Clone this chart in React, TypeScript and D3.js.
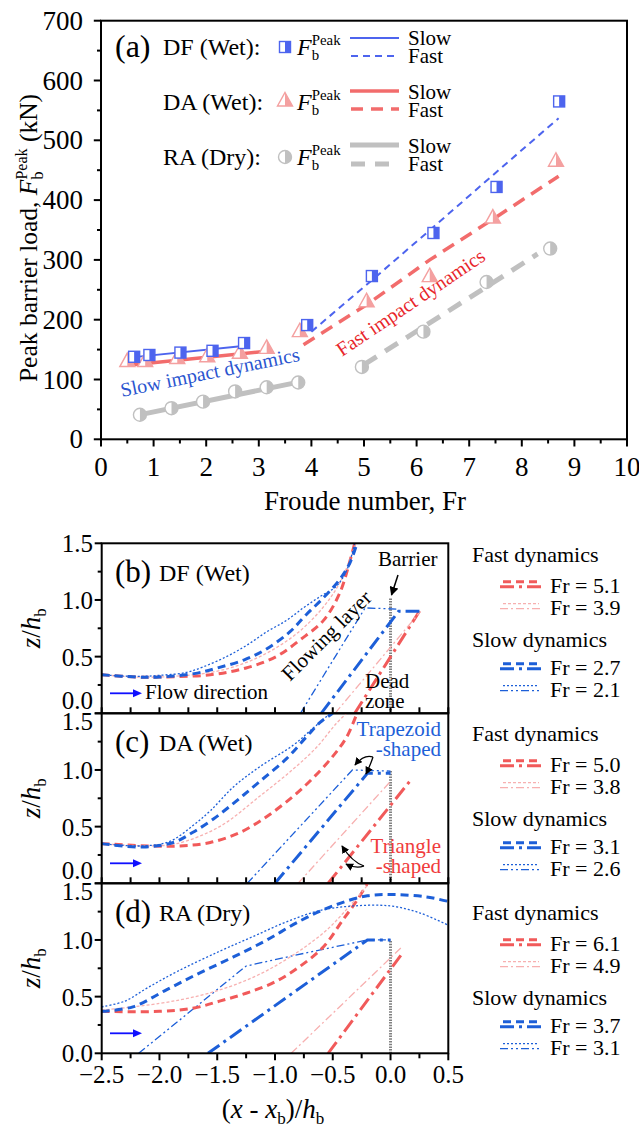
import React from "react";
import * as d3 from "d3";

const FONT = "'Liberation Serif', 'Times New Roman', serif";

// ---------------- Panel (a) data ----------------
const frTicks = [0, 1, 2, 3, 4, 5, 6, 7, 8, 9, 10];
const frMinor = [0.5, 1.5, 2.5, 3.5, 4.5, 5.5, 6.5, 7.5, 8.5, 9.5];
const loadTicks = [0, 100, 200, 300, 400, 500, 600, 700];
const loadMinor = [50, 150, 250, 350, 450, 550, 650];

const dfSlowFr = [0.63, 0.92, 1.51, 2.12, 2.72];
const dfSlowLoad = [138, 141, 145, 148, 161];
const dfFastFr = [3.92, 5.15, 6.32, 7.52, 8.71];
const dfFastLoad = [191, 273, 345, 422, 565];
const daSlowFr = [0.5, 0.84, 1.45, 2.02, 2.64, 3.15];
const daSlowLoad = [130, 130, 135, 138, 144, 152];
const daFastFr = [3.78, 5.05, 6.25, 7.45, 8.65];
const daFastLoad = [180, 230, 272, 370, 465];
const raSlowFr = [0.74, 1.34, 1.94, 2.55, 3.15, 3.75];
const raSlowLoad = [41, 52, 63, 80, 87, 95];
const raFastFr = [4.96, 6.13, 7.33, 8.54];
const raFastLoad = [121, 180, 263, 319];

const dfSlowFitFr = [0.58, 2.7];
const dfSlowFitLoad = [137, 156];
const dfFastFitFr = [4.0, 5.15, 6.32, 7.52, 8.7];
const dfFastFitLoad = [180, 266, 355, 447, 537];
const daSlowFitFr = [0.52, 3.24];
const daSlowFitLoad = [124, 148];
const daFastFitFr = [3.85, 5.05, 6.25, 7.45, 8.7];
const daFastFitLoad = [158, 225, 300, 368, 440];
const raSlowFitFr = [0.68, 3.78];
const raSlowFitLoad = [40, 96];
const raFastFitFr = [5.0, 6.13, 7.33, 8.3];
const raFastFitLoad = [125, 188, 255, 310];

// ---------------- Panels (b)-(d) data ----------------
const xProfTicks = [-2.5, -2.25, -2, -1.75, -1.5, -1.25, -1, -0.75, -0.5, -0.25, 0, 0.25, 0.5];
const zProfTicks = [0, 0.25, 0.5, 0.75, 1, 1.25, 1.5];

const bRedSurface = [[-2.5, 0.34], [-2.2, 0.32], [-2.0, 0.32], [-1.56, 0.34], [-1.25, 0.4], [-0.99, 0.5], [-0.78, 0.65], [-0.58, 0.82], [-0.44, 1.06], [-0.35, 1.35], [-0.31, 1.5]];
const bPinkSurface = [[-2.5, 0.34], [-2.2, 0.32], [-2.0, 0.32], [-1.56, 0.36], [-1.27, 0.44], [-1.02, 0.56], [-0.78, 0.73], [-0.58, 0.94], [-0.44, 1.15], [-0.32, 1.44], [-0.3, 1.5]];
const bBlueThickSurface = [[-2.5, 0.34], [-2.2, 0.32], [-2.0, 0.32], [-1.7, 0.35], [-1.5, 0.4], [-1.27, 0.47], [-1.07, 0.57], [-0.87, 0.72], [-0.73, 0.87], [-0.58, 1.02], [-0.44, 1.18], [-0.35, 1.33], [-0.29, 1.5]];
const bBlueThinSurface = [[-2.5, 0.34], [-2.2, 0.325], [-2.0, 0.335], [-1.77, 0.36], [-1.62, 0.41], [-1.42, 0.5], [-1.245, 0.6], [-1.07, 0.72], [-0.9, 0.82], [-0.755, 0.93], [-0.61, 1.03], [-0.47, 1.12], [-0.38, 1.26], [-0.31, 1.5]];
const bRedDead = [[-0.31, 0], [0.25, 0.9]];
const bPinkDead = [[-0.48, 0], [0.26, 0.9]];
const bBlueThickDead = [[-0.6, 0], [0.07, 0.9], [0.25, 0.9]];
const bBlueThinDead = [[-0.78, 0], [-0.22, 0.93], [0.05, 0.92]];

const cRedSurface = [[-2.5, 0.35], [-2.1, 0.33], [-1.82, 0.33], [-1.56, 0.36], [-1.3, 0.45], [-1.07, 0.59], [-0.84, 0.77], [-0.67, 0.93], [-0.5, 1.12], [-0.38, 1.29], [-0.29, 1.5]];
const cPinkSurface = [[-2.5, 0.35], [-2.1, 0.33], [-1.85, 0.35], [-1.48, 0.5], [-1.13, 0.77], [-0.84, 1.01], [-0.64, 1.2], [-0.47, 1.41], [-0.38, 1.5]];
const cBlueThickSurface = [[-2.5, 0.35], [-2.14, 0.32], [-1.88, 0.36], [-1.71, 0.45], [-1.53, 0.57], [-1.33, 0.73], [-1.13, 0.9], [-0.9, 1.1], [-0.73, 1.29], [-0.61, 1.42], [-0.5, 1.5]];
const cBlueThinSurface = [[-2.5, 0.35], [-2.14, 0.33], [-1.91, 0.37], [-1.71, 0.51], [-1.56, 0.64], [-1.36, 0.85], [-1.13, 1.03], [-0.84, 1.22], [-0.67, 1.37], [-0.52, 1.5]];
const cRedDead = [[-0.54, 0], [0.19, 0.93]];
const cPinkDead = [[-0.8, 0], [0.0, 0.9]];
const cBlueThickDead = [[-1.0, 0], [-0.2, 0.97], [0.0, 0.97]];
const cBlueThinDead = [[-1.24, 0], [-0.33, 1.0], [0.0, 0.99]];

const dRedSurface = [[-2.5, 0.37], [-2.0, 0.37], [-1.7, 0.4], [-1.48, 0.46], [-1.25, 0.53], [-1.0, 0.63], [-0.78, 0.77], [-0.58, 0.94], [-0.41, 1.18], [-0.29, 1.35], [-0.2, 1.5]];
const dPinkSurface = [[-2.5, 0.38], [-2.0, 0.44], [-1.65, 0.51], [-1.36, 0.6], [-1.07, 0.73], [-0.78, 0.91], [-0.55, 1.09], [-0.38, 1.27], [-0.21, 1.47], [-0.19, 1.5]];
const dBlueThickSurface = [[-2.5, 0.37], [-2.23, 0.41], [-1.94, 0.56], [-1.65, 0.71], [-1.36, 0.85], [-1.07, 1.0], [-0.78, 1.17], [-0.5, 1.3], [-0.2, 1.39], [0.05, 1.4], [0.31, 1.38], [0.5, 1.34]];
const dBlueThinSurface = [[-2.5, 0.41], [-2.3, 0.46], [-2.1, 0.58], [-1.85, 0.72], [-1.48, 0.9], [-1.19, 1.03], [-0.9, 1.16], [-0.61, 1.26], [-0.32, 1.3], [0, 1.3], [0.25, 1.24], [0.5, 1.13]];
const dRedDead = [[-0.54, 0], [0.1, 0.88]];
const dPinkDead = [[-0.86, 0], [0.1, 0.94]];
const dBlueThickDead = [[-1.58, 0], [-0.2, 1.0], [0.0, 1.0]];
const dBlueThinDead = [[-2.18, 0], [-1.25, 0.77], [-0.85, 0.86], [-0.2, 1.0], [0.0, 1.0]];

const bLegendFr = ["5.1", "3.9", "2.7", "2.1"];
const cLegendFr = ["5.0", "3.8", "3.1", "2.6"];
const dLegendFr = ["6.1", "4.9", "3.7", "3.1"];

// ---------------- styles ----------------
const BLUE_A = "#4d64ee";
const RED_A = "#f26c6c";
const PINK_A = "#f4a0a0";
const GRAY_A = "#c0c0c0";
const RED_P = "#f15a5a";
const PINK_P = "#f7b0b0";
const BLUE_P = "#1d5fd8";

const profStyles = [
  { stroke: RED_P, w: 3, surf: "8,5", dead: "14,5,3,5" },
  { stroke: PINK_P, w: 1.3, surf: "3,2", dead: "8,3,2,3" },
  { stroke: BLUE_P, w: 3, surf: "8,5", dead: "14,5,3,5" },
  { stroke: BLUE_P, w: 1.3, surf: "2,2", dead: "8,3,2,3,2,3" },
];

const xA = d3.scaleLinear().domain([0, 10]).range([101, 627]);
const yA = d3.scaleLinear().domain([0, 700]).range([439.3, 20.7]);
const xP = d3.scaleLinear().domain([-2.5, 0.5]).range([101.7, 448.3]);
const PANEL_H = 170;

function lineA(xs: number[], ys: number[]) {
  return d3
    .line<number>()
    .x((_, i) => xA(xs[i]))
    .y((_, i) => yA(ys[i]))(xs) as string;
}

function Square({ cx, cy }: any) {
  return (
    <g transform={`translate(${cx},${cy})`}>
      <rect x={-5.5} y={-5.5} width={11} height={11} fill="white" stroke={BLUE_A} strokeWidth={1.4} />
      <rect x={0} y={-5.5} width={5.5} height={11} fill={BLUE_A} />
    </g>
  );
}
function Tri({ cx, cy }: any) {
  return (
    <g transform={`translate(${cx},${cy})`}>
      <path d="M0,-8.5 L7.5,5 L-7.5,5 Z" fill="white" stroke={PINK_A} strokeWidth={1.4} />
      <path d="M0,-8.5 L7.5,5 L0,5 Z" fill={PINK_A} />
    </g>
  );
}
function Circ({ cx, cy }: any) {
  return (
    <g transform={`translate(${cx},${cy})`}>
      <circle r={6.5} fill="white" stroke={GRAY_A} strokeWidth={1.4} />
      <path d="M0,-6.5 A6.5,6.5 0 0 1 0,6.5 Z" fill={GRAY_A} />
    </g>
  );
}

function FbPeak({ x, y, size }: any) {
  const s = size * 0.62;
  return (
    <text x={x} y={y} fontSize={size} fontFamily={FONT}>
      <tspan fontStyle="italic">F</tspan>
      <tspan fontSize={s} dy={size * 0.22}>b</tspan>
      <tspan fontSize={s} dx={-s * 0.5} dy={-size * 0.62}>Peak</tspan>
    </text>
  );
}

function PanelA() {
  const legendRows = [
    { label: "DF (Wet):", y: 55, marker: "sq", color: BLUE_A, w: 2, dash: "7,5", slowY: 38, fastY: 56, sT: 45, fT: 63 },
    { label: "DA (Wet):", y: 110, marker: "tri", color: RED_A, w: 3.5, dash: "12,8", slowY: 91, fastY: 109, sT: 99, fT: 117 },
    { label: "RA (Dry):", y: 165, marker: "circ", color: GRAY_A, w: 5, dash: "14,10", slowY: 145, fastY: 164, sT: 153, fT: 171 },
  ];
  return (
    <g>
      {/* fit lines */}
      <path d={lineA(dfSlowFitFr, dfSlowFitLoad)} fill="none" stroke={BLUE_A} strokeWidth={2} />
      <path d={lineA(dfFastFitFr, dfFastFitLoad)} fill="none" stroke={BLUE_A} strokeWidth={2} strokeDasharray="7,5" />
      <path d={lineA(daSlowFitFr, daSlowFitLoad)} fill="none" stroke={RED_A} strokeWidth={3.5} />
      <path d={lineA(daFastFitFr, daFastFitLoad)} fill="none" stroke={RED_A} strokeWidth={3.5} strokeDasharray="13,8" />
      <path d={lineA(raSlowFitFr, raSlowFitLoad)} fill="none" stroke={GRAY_A} strokeWidth={5} />
      <path d={lineA(raFastFitFr, raFastFitLoad)} fill="none" stroke={GRAY_A} strokeWidth={5} strokeDasharray="15,10" />
      {/* markers */}
      {raSlowFr.map((f, i) => <Circ key={"rs" + i} cx={xA(f)} cy={yA(raSlowLoad[i])} />)}
      {raFastFr.map((f, i) => <Circ key={"rf" + i} cx={xA(f)} cy={yA(raFastLoad[i])} />)}
      {daSlowFr.map((f, i) => <Tri key={"ds" + i} cx={xA(f)} cy={yA(daSlowLoad[i])} />)}
      {daFastFr.map((f, i) => <Tri key={"dfa" + i} cx={xA(f)} cy={yA(daFastLoad[i])} />)}
      {dfSlowFr.map((f, i) => <Square key={"fs" + i} cx={xA(f)} cy={yA(dfSlowLoad[i])} />)}
      {dfFastFr.map((f, i) => <Square key={"ff" + i} cx={xA(f)} cy={yA(dfFastLoad[i])} />)}

      {/* annotations */}
      <text transform="translate(122,397) rotate(-11.5)" fontSize={20} fill="#2a55cf" fontFamily={FONT}>Slow impact dynamics</text>
      <text transform="translate(342,357) rotate(-34)" fontSize={20} fill="#e8262b" fontFamily={FONT}>Fast impact dynamics</text>

      {/* legend */}
      <text x={115} y={57} fontSize={32} fontFamily={FONT}>(a)</text>
      {legendRows.map((r, i) => (
        <g key={"lg" + i}>
          <text x={163} y={r.y} fontSize={24} fontFamily={FONT}>{r.label}</text>
          {r.marker === "sq" && <Square cx={285} cy={r.y - 8} />}
          {r.marker === "tri" && <Tri cx={285} cy={r.y - 9} />}
          {r.marker === "circ" && <Circ cx={285} cy={r.y - 8} />}
          <FbPeak x={297} y={r.y} size={24} />
          <line x1={350} x2={399} y1={r.slowY} y2={r.slowY} stroke={r.color} strokeWidth={r.w} />
          <line x1={351} x2={399} y1={r.fastY} y2={r.fastY} stroke={r.color} strokeWidth={r.w} strokeDasharray={r.dash} />
          <text x={408} y={r.sT} fontSize={21} fontFamily={FONT}>Slow</text>
          <text x={408} y={r.fT} fontSize={21} fontFamily={FONT}>Fast</text>
        </g>
      ))}

      {/* axes */}
      <rect x={101} y={20.7} width={526} height={418.6} fill="none" stroke="black" strokeWidth={2} />
      {frTicks.map((t) => (
        <g key={"xt" + t}>
          <line x1={xA(t)} x2={xA(t)} y1={439.3} y2={446.5} stroke="black" strokeWidth={2} />
          <text x={xA(t)} y={476} textAnchor="middle" fontSize={27} fontFamily={FONT}>{t}</text>
        </g>
      ))}
      {frMinor.map((t) => (
        <line key={"xm" + t} x1={xA(t)} x2={xA(t)} y1={439.3} y2={443.5} stroke="black" strokeWidth={2} />
      ))}
      {loadTicks.map((t) => (
        <g key={"yt" + t}>
          <line x1={93.8} x2={101} y1={yA(t)} y2={yA(t)} stroke="black" strokeWidth={2} />
          <text x={83} y={yA(t) + 9} textAnchor="end" fontSize={27} fontFamily={FONT}>{t}</text>
        </g>
      ))}
      {loadMinor.map((t) => (
        <line key={"ym" + t} x1={97} x2={101} y1={yA(t)} y2={yA(t)} stroke="black" strokeWidth={2} />
      ))}
      <text x={365} y={510} textAnchor="middle" fontSize={27} fontFamily={FONT}>Froude number, Fr</text>
      <text transform="translate(37,238) rotate(-90)" textAnchor="middle" fontSize={25.5} fontFamily={FONT}>
        Peak barrier load,{" "}
        <tspan fontStyle="italic">F</tspan>
        <tspan fontSize={16} dy={6}>b</tspan>
        <tspan fontSize={16} dx={-8} dy={-16}>Peak</tspan>
        <tspan dy={10}> (kN)</tspan>
      </text>
    </g>
  );
}

function ProfilePanel({ idx, top, tag, title, surfaces, deads, barrierTop, legendFr }: any) {
  const yP = d3.scaleLinear().domain([0, 1.5]).range([top + PANEL_H, top]);
  const curve = d3
    .line<number[]>()
    .x((d) => xP(d[0]))
    .y((d) => yP(d[1]))
    .curve(d3.curveCatmullRom.alpha(0.5));
  const straight = d3
    .line<number[]>()
    .x((d) => xP(d[0]))
    .y((d) => yP(d[1]));
  const clipId = "clip" + idx;
  const isLast = idx === 2;
  const base = 561.7 + idx * 179;
  const legRows = [
    { s: 0, dy: 20, ty: 31.6 },
    { s: 1, dy: 42, ty: 53.3 },
    { s: 2, dy: 102, ty: 113.3 },
    { s: 3, dy: 124, ty: 135 },
  ];
  return (
    <g>
      <defs>
        <clipPath id={clipId}>
          <rect x={xP(-2.5)} y={top} width={xP(0.5) - xP(-2.5)} height={PANEL_H} />
        </clipPath>
      </defs>
      <g clipPath={`url(#${clipId})`}>
        <line x1={xP(0)} x2={xP(0)} y1={yP(0)} y2={yP(barrierTop)} stroke="#808080" strokeWidth={3} strokeDasharray="1.5,1.2" />
        {deads.map((d: any, i: number) => (
          <path key={"d" + i} d={straight(d) as string} fill="none" stroke={profStyles[i].stroke} strokeWidth={profStyles[i].w} strokeDasharray={profStyles[i].dead} />
        ))}
        {surfaces.map((d: any, i: number) => (
          <path key={"s" + i} d={curve(d) as string} fill="none" stroke={profStyles[i].stroke} strokeWidth={profStyles[i].w} strokeDasharray={profStyles[i].surf} />
        ))}
      </g>
      {/* frame */}
      <rect x={xP(-2.5)} y={top} width={xP(0.5) - xP(-2.5)} height={PANEL_H} fill="none" stroke="black" strokeWidth={2} />
      {/* y ticks */}
      {zProfTicks.map((t) => {
        const major = Math.abs((t * 2) % 1) < 1e-6;
        return <line key={"zt" + t} x1={xP(-2.5) - (major ? 7 : 4)} x2={xP(-2.5)} y1={yP(t)} y2={yP(t)} stroke="black" strokeWidth={2} />;
      })}
      {[0, 0.5, 1, 1.5].map((t) => {
        let off = 9;
        if (t === 0 && !isLast) off = -4;
        if (t === 1.5 && idx > 0) off = 17;
        return (
          <text key={"zl" + t} x={93} y={yP(t) + off} textAnchor="end" fontSize={25} fontFamily={FONT}>
            {d3.format(".1f")(t)}
          </text>
        );
      })}
      {/* x ticks: top ticks pointing up for lower panels */}
      {idx > 0 &&
        xProfTicks.map((t) => (
          <line key={"xtu" + t} x1={xP(t)} x2={xP(t)} y1={top} y2={top - 6} stroke="black" strokeWidth={2} />
        ))}
      {isLast &&
        xProfTicks.map((t) => {
          const major = Math.abs((t * 2) % 1) < 1e-6;
          return <line key={"xtd" + t} x1={xP(t)} x2={xP(t)} y1={top + PANEL_H} y2={top + PANEL_H + (major ? 7 : 5)} stroke="black" strokeWidth={2} />;
        })}
      {isLast &&
        [-2.5, -2, -1.5, -1, -0.5, 0, 0.5].map((t) => (
          <text key={"xl" + t} x={xP(t)} y={1083} textAnchor="middle" fontSize={25} fontFamily={FONT}>
            {d3.format(".1f")(t)}
          </text>
        ))}
      {/* y title */}
      <text transform={`translate(40,${top + PANEL_H / 2}) rotate(-90)`} textAnchor="middle" fontSize={27} fontFamily={FONT}>
        <tspan fontStyle="italic">z</tspan>/<tspan fontStyle="italic">h</tspan>
        <tspan fontSize={17} dy={6}>b</tspan>
      </text>
      {/* panel tag */}
      <text x={115} y={top + 38.4} fontSize={31} fontFamily={FONT}>{tag}</text>
      <text x={159} y={top + 38} fontSize={24} fontFamily={FONT}>{title}</text>
      {/* flow arrow */}
      <line x1={110} x2={136} y1={top + 150} y2={top + 150} stroke="#1010ff" strokeWidth={1.8} />
      <path d={`M${142},${top + 150} L${133},${top + 146} L${133},${top + 154} Z`} fill="#1010ff" />

      {/* right legend */}
      <text x={472} y={base} fontSize={22} fontFamily={FONT}>Fast dynamics</text>
      <text x={472} y={base + 85} fontSize={22} fontFamily={FONT}>Slow dynamics</text>
      {legRows.map((r, i) => {
        const st = profStyles[r.s];
        return (
          <g key={"lr" + i}>
            <line x1={503} x2={539} y1={base + r.dy} y2={base + r.dy} stroke={st.stroke} strokeWidth={st.w} strokeDasharray={st.surf} />
            <line x1={500} x2={541} y1={base + r.dy + 5} y2={base + r.dy + 5} stroke={st.stroke} strokeWidth={st.w} strokeDasharray={st.dead} />
            <text x={550} y={base + r.ty} fontSize={22} fontFamily={FONT}>Fr = {legendFr[i]}</text>
          </g>
        );
      })}
    </g>
  );
}

export default function App() {
  const panels = [
    { top: 543.3, tag: "(b)", title: "DF (Wet)", surfaces: [bRedSurface, bPinkSurface, bBlueThickSurface, bBlueThinSurface], deads: [bRedDead, bPinkDead, bBlueThickDead, bBlueThinDead], barrierTop: 1.02, legendFr: bLegendFr },
    { top: 713.3, tag: "(c)", title: "DA (Wet)", surfaces: [cRedSurface, cPinkSurface, cBlueThickSurface, cBlueThinSurface], deads: [cRedDead, cPinkDead, cBlueThickDead, cBlueThinDead], barrierTop: 0.99, legendFr: cLegendFr },
    { top: 883.3, tag: "(d)", title: "RA (Dry)", surfaces: [dRedSurface, dPinkSurface, dBlueThickSurface, dBlueThinSurface], deads: [dRedDead, dPinkDead, dBlueThickDead, dBlueThinDead], barrierTop: 1.0, legendFr: dLegendFr },
  ];
  return (
    <svg width={639} height={1130} style={{ position: "absolute", left: 0, top: 0, background: "white" }} fontFamily={FONT}>
      <defs>
        <marker id="ahBlack" viewBox="0 0 10 10" refX="9" refY="5" markerWidth="6" markerHeight="6" orient="auto">
          <path d="M0,0 L10,5 L0,10 Z" fill="black" />
        </marker>
      </defs>
      <rect x={0} y={0} width={639} height={1130} fill="white" />
      <PanelA />
      {panels.map((p, i) => (
        <ProfilePanel key={i} idx={i} {...p} />
      ))}
      {/* panel (b) annotations */}
      <text x={378} y={566} fontSize={21} fontFamily={FONT}>Barrier</text>
      <line x1={398} y1={575} x2={391.5} y2={595} stroke="black" strokeWidth={1.5} markerEnd="url(#ahBlack)" />
      <text transform="translate(290,682) rotate(-45)" fontSize={21} fontFamily={FONT}>Flowing layer</text>
      <text x={365} y={688} fontSize={21} fontFamily={FONT}>Dead</text>
      <text x={365} y={708} fontSize={21} fontFamily={FONT}>zone</text>
      <text x={145} y={699} fontSize={21} fontFamily={FONT}>Flow direction</text>
      {/* panel (c) annotations */}
      <text x={441} y={736} textAnchor="end" fontSize={21} fill={BLUE_P} fontFamily={FONT}>Trapezoid</text>
      <text x={441} y={756} textAnchor="end" fontSize={21} fill={BLUE_P} fontFamily={FONT}>-shaped</text>
      <path d="M373,757 Q364,754 355,765" fill="none" stroke="black" strokeWidth={1.3} markerEnd="url(#ahBlack)" />
      <path d="M373,757 Q370,766 366,774" fill="none" stroke="black" strokeWidth={1.3} markerEnd="url(#ahBlack)" />
      <text x={441} y={853} textAnchor="end" fontSize={21} fill="#f03c3c" fontFamily={FONT}>Triangle</text>
      <text x={441} y={873} textAnchor="end" fontSize={21} fill="#f03c3c" fontFamily={FONT}>-shaped</text>
      <path d="M364,866 Q352,862 342,846" fill="none" stroke="black" strokeWidth={1.3} markerEnd="url(#ahBlack)" />
      <path d="M364,866 Q356,869 346,864" fill="none" stroke="black" strokeWidth={1.3} markerEnd="url(#ahBlack)" />
      {/* bottom x title */}
      <text x={273} y={1118} textAnchor="middle" fontSize={27} fontFamily={FONT}>
        (<tspan fontStyle="italic">x</tspan> - <tspan fontStyle="italic">x</tspan>
        <tspan fontSize={17} dy={6}>b</tspan>
        <tspan dy={-6}>)/</tspan>
        <tspan fontStyle="italic">h</tspan>
        <tspan fontSize={17} dy={6}>b</tspan>
      </text>
    </svg>
  );
}
